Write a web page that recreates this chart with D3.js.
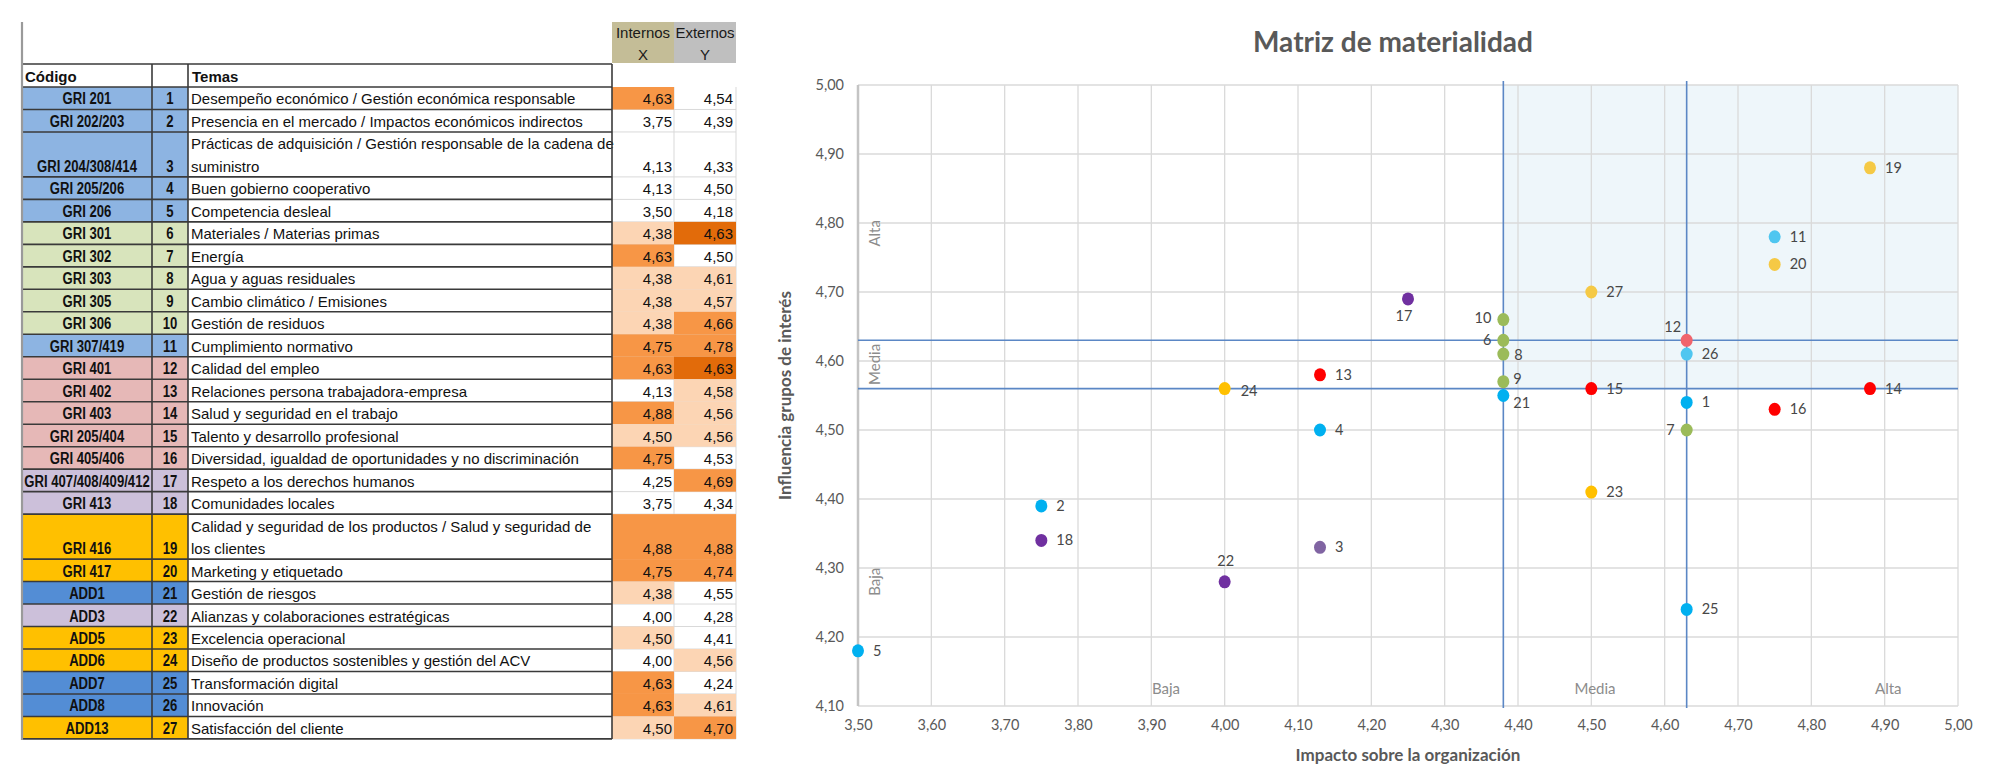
<!DOCTYPE html>
<html>
<head>
<meta charset="utf-8">
<script src="https://cdn.jsdelivr.net/npm/d3@7"></script>
<style>
  body { margin: 0; background: #fff; }
  svg { display: block; }
</style>
</head>
<body>
<svg id="lienzo" width="1994" height="770"></svg>
<script>
// ------------------------------------------------------------------
//  datos (tabla + matriz)
// ------------------------------------------------------------------
const codigos = ["GRI 201", "GRI 202/203", "GRI 204/308/414", "GRI 205/206", "GRI 206",
  "GRI 301", "GRI 302", "GRI 303", "GRI 305", "GRI 306", "GRI 307/419", "GRI 401",
  "GRI 402", "GRI 403", "GRI 205/404", "GRI 405/406", "GRI 407/408/409/412", "GRI 413",
  "GRI 416", "GRI 417", "ADD1", "ADD3", "ADD5", "ADD6", "ADD7", "ADD8", "ADD13"];

const temas = [
  "Desempeño económico / Gestión económica responsable",
  "Presencia en el mercado / Impactos económicos indirectos",
  "Prácticas de adquisición / Gestión responsable de la cadena de suministro",
  "Buen gobierno cooperativo",
  "Competencia desleal",
  "Materiales / Materias primas",
  "Energía",
  "Agua y aguas residuales",
  "Cambio climático / Emisiones",
  "Gestión de residuos",
  "Cumplimiento normativo",
  "Calidad del empleo",
  "Relaciones persona trabajadora-empresa",
  "Salud y seguridad en el trabajo",
  "Talento y desarrollo profesional",
  "Diversidad, igualdad de oportunidades y no discriminación",
  "Respeto a los derechos humanos",
  "Comunidades locales",
  "Calidad y seguridad de los productos / Salud y seguridad de los clientes",
  "Marketing y etiquetado",
  "Gestión de riesgos",
  "Alianzas y colaboraciones estratégicas",
  "Excelencia operacional",
  "Diseño de productos sostenibles y gestión del ACV",
  "Transformación digital",
  "Innovación",
  "Satisfacción del cliente"];

const internosX = [4.63, 3.75, 4.13, 4.13, 3.50, 4.38, 4.63, 4.38, 4.38, 4.38, 4.75, 4.63, 4.13, 4.88,
  4.50, 4.75, 4.25, 3.75, 4.88, 4.75, 4.38, 4.00, 4.50, 4.00, 4.63, 4.63, 4.50];
const externosY = [4.54, 4.39, 4.33, 4.50, 4.18, 4.63, 4.50, 4.61, 4.57, 4.66, 4.78, 4.63, 4.58, 4.56,
  4.56, 4.53, 4.69, 4.34, 4.88, 4.74, 4.55, 4.28, 4.41, 4.56, 4.24, 4.61, 4.70];

// grupo de color de la celda de código
const grupoTabla = ["eco", "eco", "eco", "eco", "eco", "amb", "amb", "amb", "amb", "amb", "eco",
  "soc", "soc", "soc", "soc", "soc", "dh", "dh", "cli", "cli", "add", "dh", "cli", "cli", "add", "add", "cli"];

// grupo de color del punto en la matriz
const grupoPunto = ["azul", "azul", "moradoClaro", "azul", "azul", "verde", "verde", "verde", "verde",
  "verde", "celeste", "rojoClaro", "rojo", "rojo", "rojo", "rojo", "morado", "morado", "amarilloClaro",
  "amarilloClaro", "azul", "morado", "ambar", "ambar", "azul", "celeste", "amarilloClaro"];

const ticksX = [3.5, 3.6, 3.7, 3.8, 3.9, 4.0, 4.1, 4.2, 4.3, 4.4, 4.5, 4.6, 4.7, 4.8, 4.9, 5.0];
const ticksY = [4.1, 4.2, 4.3, 4.4, 4.5, 4.6, 4.7, 4.8, 4.9, 5.0];
const umbralesX = [4.38, 4.63];
const umbralesY = [4.56, 4.63];
const zonas = ["Baja", "Media", "Alta"];

const ids = codigos.map((d, i) => i + 1);

// ------------------------------------------------------------------
const svg = d3.select("#lienzo");
const es = d3.formatLocale({ decimal: ",", thousands: ".", grouping: [3], currency: ["", " €"] });
const fmt = es.format(".2f");

const colorTabla = d3.scaleOrdinal()
  .domain(["eco", "amb", "soc", "dh", "cli", "add"])
  .range(["#8db4e2", "#d8e4bc", "#e6b8b7", "#ccc0da", "#ffc000", "#538dd5"]);

const colorPunto = d3.scaleOrdinal()
  .domain(["azul", "celeste", "morado", "moradoClaro", "verde", "rojo", "rojoClaro", "amarilloClaro", "ambar"])
  .range(["#00b0f0", "#4fc6f0", "#7030a0", "#8064a2", "#9bbb59", "#ff0000", "#f0646c", "#f5c945", "#ffc000"]);

// relleno condicional de las celdas de valores
function tonoX(v) {
  if (v >= 4.6) return "#f79646";
  if (v >= 4.38) return "#fcd5b4";
  return null;
}
function tonoY(v) {
  if (Math.abs(v - 4.63) < 0.001) return "#e26b0a";
  if (v > 4.63) return "#f79646";
  if (v >= 4.56) return "#fcd5b4";
  return null;
}

// ------------------------------------------------------------------
//  TABLA
// ------------------------------------------------------------------
const col = { cod: [22, 152], num: [152, 188], tema: [188, 612], x: [612, 674], y: [674, 736] };
const altoFila = 22.48;
const yCabecera = 64;
const yInicio = 87;
const fuenteTabla = "'Liberation Sans', Arial, sans-serif";
const tabla = svg.append("g").attr("class", "tabla");

// partir los temas en líneas según el ancho de la columna
const medidor = tabla.append("text")
  .style("font-family", fuenteTabla).style("font-size", "15px").attr("visibility", "hidden");
function partir(texto, ancho) {
  const palabras = texto.split(" ");
  const lineas = [];
  let actual = "";
  for (const p of palabras) {
    const prueba = actual ? actual + " " + p : p;
    medidor.text(prueba);
    if (medidor.node().getComputedTextLength() > ancho && actual) {
      lineas.push(actual);
      actual = p;
    } else {
      actual = prueba;
    }
  }
  lineas.push(actual);
  return lineas;
}

let yAcum = yInicio;
const filas = temas.map((t, i) => {
  const lineas = partir(t, 423);
  const fila = { i, id: ids[i], lineas, y0: yAcum, h: lineas.length * altoFila };
  yAcum += fila.h;
  return fila;
});
medidor.remove();
const yFin = yAcum;

// cabeceras Internos / Externos
const cabeceras = [
  { c: col.x, fill: "#c4bd97", t: ["Internos", "X"] },
  { c: col.y, fill: "#bfbfbf", t: ["Externos", "Y"] }];
cabeceras.forEach((h) => {
  tabla.append("rect").attr("x", h.c[0]).attr("y", 22).attr("width", h.c[1] - h.c[0]).attr("height", 41).attr("fill", h.fill);
  h.t.forEach((s, k) => {
    tabla.append("text").attr("x", (h.c[0] + h.c[1]) / 2).attr("y", 37.5 + k * 22)
      .attr("text-anchor", "middle").style("font-family", fuenteTabla).style("font-size", "15px")
      .attr("fill", "#1a1a1a").text(s);
  });
});

// rejilla clara de excel en las columnas de valores
filas.forEach((f) => {
  tabla.append("line").attr("x1", col.x[0]).attr("x2", col.y[1]).attr("y1", f.y0 + f.h).attr("y2", f.y0 + f.h)
    .attr("stroke", "#d9d9d9").attr("stroke-width", 1);
});
tabla.append("line").attr("x1", col.y[0]).attr("x2", col.y[0]).attr("y1", yInicio).attr("y2", yFin)
  .attr("stroke", "#d9d9d9");
tabla.append("line").attr("x1", col.y[1]).attr("x2", col.y[1]).attr("y1", yInicio).attr("y2", yFin)
  .attr("stroke", "#d9d9d9");

// celdas de color
const g = tabla.selectAll("g.fila").data(filas).join("g").attr("class", "fila");
g.append("rect").attr("x", col.cod[0]).attr("y", (d) => d.y0).attr("width", col.num[1] - col.cod[0])
  .attr("height", (d) => d.h).attr("fill", (d) => colorTabla(grupoTabla[d.i]));
g.filter((d) => tonoX(internosX[d.i])).append("rect").attr("x", col.x[0]).attr("y", (d) => d.y0)
  .attr("width", col.x[1] - col.x[0]).attr("height", (d) => d.h).attr("fill", (d) => tonoX(internosX[d.i]));
g.filter((d) => tonoY(externosY[d.i])).append("rect").attr("x", col.y[0]).attr("y", (d) => d.y0)
  .attr("width", col.y[1] - col.y[0]).attr("height", (d) => d.h).attr("fill", (d) => tonoY(externosY[d.i]));

// textos
const estrecho = (x, y) => `translate(${x},${y}) scale(0.82,1)`;
g.append("text").attr("transform", (d) => estrecho((col.cod[0] + col.cod[1]) / 2, d.y0 + d.h - 5))
  .attr("text-anchor", "middle").style("font-family", fuenteTabla).style("font-size", "16px")
  .style("font-weight", "bold").attr("fill", "#111").text((d) => codigos[d.i]);
g.append("text").attr("transform", (d) => estrecho((col.num[0] + col.num[1]) / 2, d.y0 + d.h - 5))
  .attr("text-anchor", "middle").style("font-family", fuenteTabla).style("font-size", "16px")
  .style("font-weight", "bold").attr("fill", "#111").text((d) => d.id);
g.each(function (d) {
  d.lineas.forEach((l, k) => {
    d3.select(this).append("text").attr("x", col.tema[0] + 3).attr("y", d.y0 + (k + 1) * altoFila - 5)
      .style("font-family", fuenteTabla).style("font-size", "15px").attr("fill", "#111").text(l);
  });
});
g.append("text").attr("x", col.x[1] - 2).attr("y", (d) => d.y0 + d.h - 5).attr("text-anchor", "end")
  .style("font-family", fuenteTabla).style("font-size", "15px").attr("fill", "#111")
  .text((d) => fmt(internosX[d.i]));
g.append("text").attr("x", col.y[1] - 3).attr("y", (d) => d.y0 + d.h - 5).attr("text-anchor", "end")
  .style("font-family", fuenteTabla).style("font-size", "15px").attr("fill", "#111")
  .text((d) => fmt(externosY[d.i]));

// cabecera Código / Temas
tabla.append("text").attr("x", 25).attr("y", 82).style("font-family", fuenteTabla).style("font-size", "15px")
  .style("font-weight", "bold").attr("fill", "#111").text("Código");
tabla.append("text").attr("x", 192).attr("y", 82).style("font-family", fuenteTabla).style("font-size", "15px")
  .style("font-weight", "bold").attr("fill", "#111").text("Temas");

// bordes oscuros
const bordes = [yCabecera, yInicio].concat(filas.map((f) => f.y0 + f.h));
tabla.selectAll("line.borde").data(bordes).join("line").attr("class", "borde")
  .attr("x1", col.cod[0]).attr("x2", col.tema[1]).attr("y1", (d) => d).attr("y2", (d) => d)
  .attr("stroke", "#3a3a3a").attr("stroke-width", 1.6);
[col.num[0], col.tema[0], col.tema[1]].forEach((xv) => {
  tabla.append("line").attr("x1", xv).attr("x2", xv).attr("y1", yCabecera).attr("y2", yFin)
    .attr("stroke", "#3a3a3a").attr("stroke-width", 1.6);
});
tabla.append("line").attr("x1", col.cod[0]).attr("x2", col.cod[0]).attr("y1", 22).attr("y2", yFin + 1)
  .attr("stroke", "#9a9a9a").attr("stroke-width", 2.2);

// ------------------------------------------------------------------
//  MATRIZ
// ------------------------------------------------------------------
const x = d3.scaleLinear().domain([3.5, 5.0]).range([858, 1958]);
const y = d3.scaleLinear().domain([4.1, 5.0]).range([706, 85]);
const fuente = "Lato, 'Open Sans', sans-serif";

const defs = svg.append("defs");
defs.append("filter").attr("id", "sombra").attr("x", "-20%").attr("y", "-20%").attr("width", "140%").attr("height", "200%")
  .append("feDropShadow").attr("dx", 2).attr("dy", 3).attr("stdDeviation", 2)
  .attr("flood-color", "#000").attr("flood-opacity", 0.55);
defs.append("filter").attr("id", "sombraSuave").attr("x", "-200%").attr("y", "-5%").attr("width", "500%").attr("height", "110%")
  .append("feGaussianBlur").attr("stdDeviation", 1.6);

const matriz = svg.append("g").attr("class", "matriz");

// zona destacada
matriz.append("rect").attr("x", x(umbralesX[0])).attr("y", y(5.0))
  .attr("width", x(5.0) - x(umbralesX[0])).attr("height", y(umbralesY[0]) - y(5.0))
  .attr("fill", "#eef6fa");

// rejilla
matriz.append("g").selectAll("line").data(ticksX).join("line")
  .attr("x1", (d) => x(d)).attr("x2", (d) => x(d)).attr("y1", y(5.0)).attr("y2", y(4.1))
  .attr("stroke", "#dadada").attr("stroke-width", 1.3);
matriz.append("g").selectAll("line").data(ticksY).join("line")
  .attr("x1", x(3.5)).attr("x2", x(5.0)).attr("y1", (d) => y(d)).attr("y2", (d) => y(d))
  .attr("stroke", "#dadada").attr("stroke-width", 1.3);

// bordes con sombra
matriz.append("line").attr("x1", x(5.0) + 2).attr("x2", x(5.0) + 2).attr("y1", y(5.0) + 2).attr("y2", y(4.1))
  .attr("stroke", "#8a8a8a").attr("stroke-width", 3.5).attr("filter", "url(#sombraSuave)");
matriz.append("line").attr("x1", x(3.5) - 2).attr("x2", x(3.5) - 2).attr("y1", y(5.0) + 2).attr("y2", y(4.1))
  .attr("stroke", "#9a9a9a").attr("stroke-width", 3).attr("filter", "url(#sombraSuave)");
matriz.append("line").attr("x1", x(3.5)).attr("x2", x(3.5)).attr("y1", y(5.0)).attr("y2", y(4.1))
  .attr("stroke", "#c4c4c4").attr("stroke-width", 2.5);

// umbrales
matriz.append("g").selectAll("line").data(umbralesY).join("line")
  .attr("x1", x(3.5)).attr("x2", x(5.0)).attr("y1", (d) => y(d)).attr("y2", (d) => y(d))
  .attr("stroke", "#5b87c5").attr("stroke-width", 1.6);
matriz.append("g").selectAll("line").data(umbralesX).join("line")
  .attr("x1", (d) => x(d)).attr("x2", (d) => x(d)).attr("y1", y(5.0) - 4).attr("y2", y(4.1) + 2)
  .attr("stroke", "#5b87c5").attr("stroke-width", 1.6);

// eje X
const ejeX = d3.axisBottom(x).tickValues(ticksX).tickFormat(fmt).tickSize(0).tickPadding(14);
const gX = matriz.append("g").attr("transform", `translate(0,${y(4.1)})`).call(ejeX);
gX.select(".domain").attr("stroke", "#000").attr("stroke-width", 4.5).attr("filter", "url(#sombra)");
gX.selectAll("text").style("font-family", fuente).style("font-size", "14.5px").attr("fill", "#595959");

// eje Y
const ejeY = d3.axisLeft(y).tickValues(ticksY).tickFormat(fmt).tickSize(0).tickPadding(14);
const gY = matriz.append("g").attr("transform", `translate(${x(3.5)},0)`).call(ejeY);
gY.select(".domain").remove();
gY.selectAll("text").style("font-family", fuente).style("font-size", "14.5px").attr("fill", "#595959");

// rótulos de zonas
const zonaX = [3.92, 4.505, 4.905];
const zonaY = [4.28, 4.595, 4.785];
matriz.append("g").selectAll("text").data(zonas).join("text")
  .attr("x", (d, i) => x(zonaX[i])).attr("y", y(4.1) - 12).attr("text-anchor", "middle")
  .style("font-family", fuente).style("font-size", "15px").attr("fill", "#8c8c8c").text((d) => d);
matriz.append("g").selectAll("text").data(zonas).join("text")
  .attr("transform", (d, i) => `translate(${x(3.5) + 22},${y(zonaY[i])}) rotate(-90)`)
  .attr("text-anchor", "middle").style("font-family", fuente).style("font-size", "15px")
  .attr("fill", "#8c8c8c").text((d) => d);

// puntos
const puntos = ids.map((id, i) => ({ id, px: internosX[i], py: externosY[i], grupo: grupoPunto[i] }));
matriz.append("g").selectAll("ellipse").data(puntos).join("ellipse")
  .attr("cx", (d) => x(d.px)).attr("cy", (d) => y(d.py)).attr("rx", 6).attr("ry", 6.5)
  .attr("fill", (d) => colorPunto(d.grupo));

// posición de las etiquetas
const colocacion = {
  6: [-12, 5, "end"], 7: [-12, 5, "end"], 10: [-12, 3, "end"], 12: [-14, -8, "middle"],
  17: [-4, 22, "middle"], 22: [1, -16, "middle"], 21: [10, 12, "start"], 9: [10, 2, "start"],
  8: [11, 6, "start"], 24: [16, 7, "start"]
};
matriz.append("g").selectAll("text").data(puntos).join("text")
  .attr("x", (d) => x(d.px) + (colocacion[d.id] ? colocacion[d.id][0] : 15))
  .attr("y", (d) => y(d.py) + (colocacion[d.id] ? colocacion[d.id][1] : 5))
  .attr("text-anchor", (d) => (colocacion[d.id] ? colocacion[d.id][2] : "start"))
  .style("font-family", fuente).style("font-size", "14.5px").attr("fill", "#474747")
  .text((d) => d.id);

// títulos
svg.append("text").attr("x", 1393).attr("y", 52).attr("text-anchor", "middle")
  .style("font-family", fuente).style("font-size", "28px").style("font-weight", "bold")
  .attr("fill", "#595959").text("Matriz de materialidad");
svg.append("text").attr("x", (x(3.5) + x(5.0)) / 2).attr("y", 761).attr("text-anchor", "middle")
  .style("font-family", fuente).style("font-size", "17px").style("font-weight", "bold")
  .attr("fill", "#595959").text("Impacto sobre la organización");
svg.append("text").attr("transform", `translate(791,${(y(4.1) + y(5.0)) / 2}) rotate(-90)`)
  .attr("text-anchor", "middle").style("font-family", fuente).style("font-size", "17px")
  .style("font-weight", "bold").attr("fill", "#595959").text("Influencia grupos de interés");
</script>
</body>
</html>
